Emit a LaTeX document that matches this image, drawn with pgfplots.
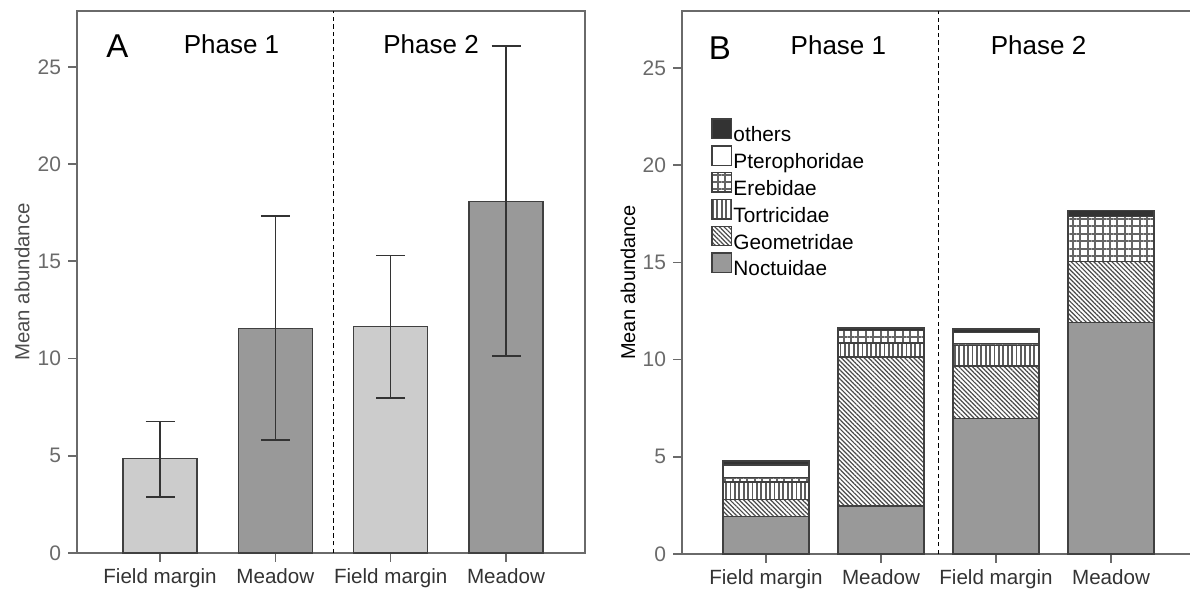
\documentclass[border=0pt]{standalone}
\usepackage{fontspec}
\setmainfont{Liberation Sans}
\usepackage{pgfplots}
\pgfplotsset{compat=1.18}
\usetikzlibrary{patterns.meta}

\definecolor{axisgray}{HTML}{6A6A6A}
\definecolor{lightbar}{HTML}{CCCCCC}
\definecolor{darkbar}{HTML}{999999}
\definecolor{edge}{HTML}{404040}
\definecolor{othersc}{HTML}{333333}
\definecolor{hatchc}{HTML}{4A4A4A}

\tikzset{paneltitle/.style={font=\fontsize{13}{15}\selectfont, anchor=center}}

\pgfplotsset{
  panel/.style={
    scale only axis, width=254pt, height=271pt,
    ymin=0, ymax=27.87, xmin=-0.72, xmax=3.685,
    axis line style={axisgray, line width=0.8pt},
    tick style={axisgray, line width=0.8pt},
    tick align=outside, tick pos=left, major tick length=4.5pt,
    ytick={0,5,...,25},
    xtick={0,1,2,3},
    xticklabels={Field margin, Meadow, Field margin, Meadow},
    /pgf/number format/assume math mode=true,
    yticklabel style={font=\fontsize{10.5}{12}\selectfont, text=axisgray},
    xticklabel style={font=\fontsize{10.3}{12}\selectfont, text=black!80},
    every axis y label/.style={at={(axis description cs:-0.108,0.5)}, rotate=90, anchor=center},
    ylabel={Mean abundance},
    ylabel style={font=\fontsize{10.2}{12}\selectfont, text=black!70},
    extra x ticks={1.5}, extra x tick labels={},
    extra x tick style={grid=major, major grid style={black, line width=0.5pt, dash pattern=on 2.2pt off 1.6pt}, major tick length=0pt},
    clip=false,
  },
  ebars/.style={
    error bars/.cd, y dir=both, y explicit,
    error bar style={line width=0.7pt, black!80},
    error mark options={rotate=90, line width=0.7pt, black!80, mark size=7.25pt}},
}

\begin{document}
\begin{tikzpicture}
\path[use as bounding box] (0,0) rectangle (595pt,294.5pt);

% Panel A: mean abundance per habitat and phase, with interval bars
\begin{axis}[panel, at={(38.5pt,18pt)}, anchor=south west]
\addplot[ybar, bar width=37pt, bar shift=0pt, fill=lightbar, draw=edge, line width=0.6pt, ebars]
  coordinates {(0,4.85) += (0,1.92) -= (0,1.97)
               (2,11.63) += (0,3.66) -= (0,3.67)};
\addplot[ybar, bar width=37pt, bar shift=0pt, fill=darkbar, draw=edge, line width=0.6pt, ebars]
  coordinates {(1,11.54) += (0,5.79) -= (0,5.73)
               (3,18.06) += (0,8.02) -= (0,7.94)};
\node[font=\fontsize{16.5}{18}\selectfont] at (axis cs:-0.37,26.05) {A};
\node[paneltitle] at (axis cs:0.62,26.15) {Phase 1};
\node[paneltitle] at (axis cs:2.35,26.15) {Phase 2};
\end{axis}

% Panel B: abundance split by family
\begin{axis}[panel, at={(341pt,17.5pt)}, anchor=south west,
  width=255pt, height=271.5pt, xmin=-0.73, xmax=3.704, ymax=27.93,
  every axis y label/.style={at={(axis description cs:-0.106,0.5)}, rotate=90, anchor=center},
  ybar stacked, bar width=43pt,
  every axis plot/.append style={draw=edge, line width=0.7pt},
  reverse legend,
  legend cell align=left,
  legend image code/.code={\draw[#1, line width=0.7pt] (0pt,-1pt) rectangle (9.7pt,8.7pt);},
  legend style={at={(axis description cs:0.057,0.803)}, anchor=north west,
    draw=none, fill=none, inner sep=0pt, row sep=-1.5pt,
    font=\fontsize{10.4}{12}\selectfont,
    nodes={inner sep=0.6pt, text height=8pt, text depth=2.5pt}},
]
\addplot[fill=darkbar] coordinates {(0,1.92) (1,2.47) (2,6.97) (3,11.90)};
\addlegendentry{Noctuidae}
\addplot[pattern={Lines[angle=-45, distance=1.6pt, line width=0.6pt]}, pattern color=hatchc]
  coordinates {(0,0.89) (1,7.66) (2,2.69) (3,3.15)};
\addlegendentry{Geometridae}
\addplot[pattern={Lines[angle=90, distance=2.2pt, line width=0.9pt]}, pattern color=hatchc!90]
  coordinates {(0,0.89) (1,0.72) (2,1.07) (3,0)};
\addlegendentry{Tortricidae}
\addplot[pattern={Hatch[angle=0, distance=3.7pt, line width=1.0pt]}, pattern color=hatchc!85]
  coordinates {(0,0.22) (1,0.65) (2,0.10) (3,2.31)};
\addlegendentry{Erebidae}
\addplot[fill=white] coordinates {(0,0.65) (1,0) (2,0.55) (3,0)};
\addlegendentry{Pterophoridae}
\addplot[fill=othersc] coordinates {(0,0.21) (1,0.12) (2,0.20) (3,0.31)};
\addlegendentry{others}
\node[font=\fontsize{16.5}{18}\selectfont] at (axis cs:-0.40,26.0) {B};
\node[paneltitle] at (axis cs:0.63,26.15) {Phase 1};
\node[paneltitle] at (axis cs:2.37,26.15) {Phase 2};
\end{axis}
\end{tikzpicture}
\end{document}
